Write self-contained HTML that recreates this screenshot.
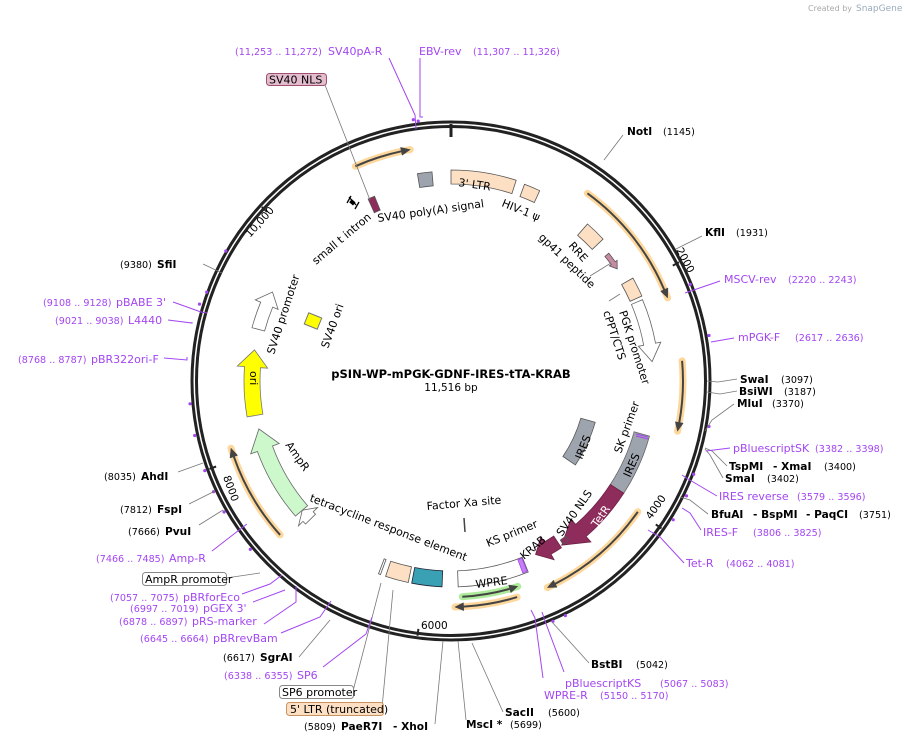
<!DOCTYPE html>
<html><head><meta charset="utf-8"><style>
html,body{margin:0;padding:0;background:#fff}
svg{display:block}
text{font-family:"DejaVu Sans","Liberation Sans",sans-serif;font-size:11px;fill:#000}
.p{fill:#a346f2}
.n{font-size:9.6px}
.b{font-weight:bold;font-size:10.6px}
</style></head><body>
<svg id="s" width="905" height="743" viewBox="0 0 905 743" xmlns="http://www.w3.org/2000/svg">
<text x="808" y="11" style="font-size:8px;fill:#aaa">Created by</text><text x="856" y="11" style="font-size:9px;fill:#9ab">SnapGene</text>
<g id="shapes"></g>
<g stroke="#777" stroke-width="0.8" fill="none">
<polyline points="325,85 370,200"/>
<polyline points="623,135 604,160"/>
<polyline points="702,236 676,249"/>
<polyline points="737,379 718,382 707,381"/>
<polyline points="737,391 720,394 707,392"/>
<polyline points="734,404 712,420 705,431"/>
<polyline points="727,466 712,451 705,448"/>
<polyline points="723,478 710,455 705,449"/>
<polyline points="708,514 690,500 680,497"/>
<polyline points="203,264 222,273"/>
<polyline points="178,472 203,463"/>
<polyline points="189,504 215,491"/>
<polyline points="199,525 223,510"/>
<polyline points="226,578 260,573"/>
<polyline points="299,657 330,620"/>
<polyline points="353,691 381,583"/>
<polyline points="382,708 393,590"/>
<polyline points="435,724 443,641"/>
<polyline points="466,720 458,641"/>
<polyline points="503,712 472,643"/>
<polyline points="589,663 552,622"/>
<polyline points="611,263 590,276"/>
<polyline points="620,294 609,301"/>
</g>
<g stroke="#a346f2" stroke-width="1" fill="none">
<polyline points="389,58 415,115 416,129"/>
<polyline points="420,58 420,117 423,117"/>
<polyline points="720,281 685,293"/>
<polyline points="734,338 711,342"/>
<polyline points="730,448 706,451"/>
<polyline points="717,496 688,479 682,475"/>
<polyline points="701,530 690,513 682,508"/>
<polyline points="684,563 660,537 648,530"/>
<polyline points="173,302 201,312 207,313"/>
<polyline points="168,320 192,323 192,322"/>
<polyline points="164,358 187,360 187,357"/>
<polyline points="212,551 243,527 247,524"/>
<polyline points="242,594 270,584 282,575"/>
<polyline points="253,602 285,590"/>
<polyline points="264,624 296,602 296,586"/>
<polyline points="281,633 320,617 331,601"/>
<polyline points="323,667 366,634 372,617"/>
<polyline points="543,678 535,618 531,610"/>
<polyline points="564,672 545,621 542,612"/>
</g>
<text x="451" y="378" text-anchor="middle" class="b" style="font-size:11.5px">pSIN-WP-mPGK-GDNF-IRES-tTA-KRAB</text>
<text x="451" y="391" text-anchor="middle" style="font-size:10.5px">11,516 bp</text>
<text x="235" y="55" class="p n">(11,253 .. 11,272)</text>
<text x="328" y="55" class="p">SV40pA-R</text>
<text x="419" y="55" class="p">EBV-rev</text>
<text x="473" y="55" class="p n">(11,307 .. 11,326)</text>
<rect x="266.5" y="73.5" width="60" height="12" rx="3" fill="#e3bccd" stroke="#a0506e"/>
<text x="269" y="83.5">SV40 NLS</text>
<text x="627" y="135" class="b">NotI</text><text x="663" y="135" class="n">(1145)</text>
<text x="705" y="236" class="b">KflI</text><text x="736" y="236" class="n">(1931)</text>
<text x="724" y="283" class="p">MSCV-rev</text><text x="788" y="283" class="p n">(2220 .. 2243)</text>
<text x="738" y="341" class="p">mPGK-F</text><text x="795" y="341" class="p n">(2617 .. 2636)</text>
<text x="740" y="383" class="b">SwaI</text><text x="781" y="383" class="n">(3097)</text>
<text x="739" y="395" class="b">BsiWI</text><text x="784" y="395" class="n">(3187)</text>
<text x="737" y="407" class="b">MluI</text><text x="772" y="407" class="n">(3370)</text>
<text x="733" y="452" class="p">pBluescriptSK</text><text x="815" y="452" class="p n">(3382 .. 3398)</text>
<text x="729" y="470" class="b">TspMI</text><text x="773" y="470" class="b">- XmaI</text><text x="824" y="470" class="n">(3400)</text>
<text x="725" y="482" class="b">SmaI</text><text x="767" y="482" class="n">(3402)</text>
<text x="719" y="500" class="p">IRES reverse</text><text x="797" y="500" class="p n">(3579 .. 3596)</text>
<text x="711" y="518" class="b">BfuAI</text><text x="753" y="518" class="b">- BspMI</text><text x="806" y="518" class="b">- PaqCI</text><text x="859" y="518" class="n">(3751)</text>
<text x="703" y="536" class="p">IRES-F</text><text x="753" y="536" class="p n">(3806 .. 3825)</text>
<text x="686" y="567" class="p">Tet-R</text><text x="726" y="567" class="p n">(4062 .. 4081)</text>
<text x="120" y="268" class="n">(9380)</text><text x="157" y="268" class="b">SfiI</text>
<text x="43" y="306" class="p n">(9108 .. 9128)</text><text x="116" y="306" class="p">pBABE 3'</text>
<text x="55" y="324" class="p n">(9021 .. 9038)</text><text x="128" y="324" class="p">L4440</text>
<text x="18" y="363" class="p n">(8768 .. 8787)</text><text x="91" y="363" class="p">pBR322ori-F</text>
<text x="104" y="480" class="n">(8035)</text><text x="141" y="480" class="b">AhdI</text>
<text x="120" y="513" class="n">(7812)</text><text x="157" y="513" class="b">FspI</text>
<text x="128" y="535" class="n">(7666)</text><text x="165" y="535" class="b">PvuI</text>
<text x="96" y="562" class="p n">(7466 .. 7485)</text><text x="169" y="562" class="p">Amp-R</text>
<rect x="142.5" y="572.5" width="84" height="13" rx="3" fill="#fff" stroke="#888"/>
<text x="145" y="583">AmpR promoter</text>
<text x="110" y="601" class="p n">(7057 .. 7075)</text><text x="183" y="601" class="p">pBRforEco</text>
<text x="130" y="612" class="p n">(6997 .. 7019)</text><text x="203" y="612" class="p">pGEX 3'</text>
<text x="119" y="625" class="p n">(6878 .. 6897)</text><text x="192" y="625" class="p">pRS-marker</text>
<text x="140" y="642" class="p n">(6645 .. 6664)</text><text x="213" y="642" class="p">pBRrevBam</text>
<text x="223" y="661" class="n">(6617)</text><text x="260" y="661" class="b">SgrAI</text>
<text x="224" y="679" class="p n">(6338 .. 6355)</text><text x="297" y="679" class="p">SP6</text>
<rect x="279.5" y="685.5" width="74" height="13" rx="3" fill="#fff" stroke="#888"/>
<text x="282" y="696">SP6 promoter</text>
<rect x="286.5" y="702.5" width="97" height="13" rx="3" fill="#fde0c3" stroke="#c9925e"/>
<text x="290" y="713">5' LTR (truncated)</text>
<text x="304" y="730" class="n">(5809)</text><text x="341" y="730" class="b">PaeR7I</text><text x="393" y="730" class="b">- XhoI</text>
<text x="466" y="728" class="b">MscI *</text><text x="510" y="728" class="n">(5699)</text>
<text x="505" y="716" class="b">SacII</text><text x="548" y="716" class="n">(5600)</text>
<text x="544" y="699" class="p">WPRE-R</text><text x="600" y="699" class="p n">(5150 .. 5170)</text>
<text x="565" y="687" class="p">pBluescriptKS</text><text x="660" y="687" class="p n">(5067 .. 5083)</text>
<text x="591" y="668" class="b">BstBI</text><text x="636" y="668" class="n">(5042)</text>
<text transform="translate(676,250) rotate(62)" style="font-size:10.5px">2000</text>
<text transform="translate(651,520) rotate(-55)" style="font-size:10.5px">4000</text>
<text x="421" y="629" style="font-size:10.5px">6000</text>
<text transform="translate(223,477) rotate(70)" style="font-size:10.5px">8000</text>
<text transform="translate(250,238) rotate(-48)" style="font-size:10.5px">10,000</text>
<text transform="translate(458,186) rotate(8)">3' LTR</text>
<text transform="translate(378,222) rotate(-8)">SV40 poly(A) signal</text>
<text transform="translate(501,206) rotate(22)">HIV-1 ψ</text>
<text transform="translate(568,246) rotate(48)">RRE</text>
<text transform="translate(538,238) rotate(44)">gp41 peptide</text>
<text transform="translate(316,265) rotate(-40)">small t intron</text>
<text transform="translate(619,312) rotate(72)">PGK promoter</text>
<text transform="translate(603,312) rotate(72)">cPPT/CTS</text>
<text transform="translate(621,454) rotate(-70)">SK primer</text>
<text transform="translate(582,460) rotate(-68)">IRES</text>
<text transform="translate(630,478) rotate(-66)">IRES</text>
<text transform="translate(597,528) rotate(-55)" style="fill:#fff">TetR</text>
<text transform="translate(562,537) rotate(-55)">SV40 NLS</text>
<text transform="translate(524,560) rotate(-40)">KRAB</text>
<text transform="translate(488,547) rotate(-22)">KS primer</text>
<text transform="translate(427,510) rotate(-5)">Factor Xa site</text>
<text transform="translate(476,588) rotate(-7)">WPRE</text>
<text transform="translate(309,501) rotate(21)">tetracycline response element</text>
<text transform="translate(285,445) rotate(55)">AmpR</text>
<text transform="translate(250,371) rotate(90)">ori</text>
<text transform="translate(274,355) rotate(-72)">SV40 promoter</text>
<text transform="translate(328,349) rotate(-70)">SV40 ori</text>
</svg>
<script>
(function(){
var cx=451,cy=381,g=document.getElementById('shapes'),NS='http://www.w3.org/2000/svg';
function P(r,a){a=a*Math.PI/180;return [(cx+r*Math.sin(a)).toFixed(1),(cy-r*Math.cos(a)).toFixed(1)].join(',');}
function el(t,at){var e=document.createElementNS(NS,t);for(var k in at)e.setAttribute(k,at[k]);g.appendChild(e);return e;}
function arc(r,a1,a2){var sw=a2>a1?1:0,lg=Math.abs(a2-a1)>180?1:0;return 'A'+r+','+r+' 0 '+lg+','+sw+' '+P(r,a2);}
function band(r1,r2,a1,a2,fill,stroke){el('path',{d:'M'+P(r2,a1)+arc(r2,a1,a2)+'L'+P(r1,a2)+arc(r1,a2,a1)+'Z',fill:fill,stroke:stroke||'#555','stroke-width':0.8});}
function arrowBand(r1,r2,a1,a2,h,fill,stroke){var d=a2>a1?1:-1,ab=a2-d*h,w=(r2-r1)*0.45,rm=(r1+r2)/2;
 el('path',{d:'M'+P(r2,a1)+arc(r2,a1,ab)+'L'+P(r2+w,ab)+'L'+P(rm,a2)+'L'+P(r1-w,ab)+'L'+P(r1,ab)+arc(r1,ab,a1)+'Z',fill:fill,stroke:stroke||'#555','stroke-width':0.8});}
function thin(r,a1,a2,glow){var d=a2>a1?1:-1,ab=a2-d*2.2;
 el('path',{d:'M'+P(r,a1)+arc(r,a1,a2),fill:'none',stroke:glow,'stroke-width':7,'stroke-linecap':'round','stroke-opacity':0.85});
 el('path',{d:'M'+P(r,a1)+arc(r,a1,ab),fill:'none',stroke:'#444','stroke-width':2});
 el('path',{d:'M'+P(r+4,ab)+'L'+P(r,a2)+'L'+P(r-4,ab)+'Z',fill:'#444',stroke:'#444','stroke-width':0.5});}
el('circle',{cx:cx,cy:cy,r:259,fill:'none',stroke:'#222','stroke-width':3});
el('circle',{cx:cx,cy:cy,r:254.5,fill:'none',stroke:'#222','stroke-width':3});
[0,62.5,125,187.5,250,312.6].forEach(function(a){el('path',{d:'M'+P(257,a)+'L'+P(a==0?244:250,a),stroke:'#222','stroke-width':a==0?3:2});});
[[-8.2,264],[-7.2,262],[68,258],[80,262],[100,262],[111,260],[116,262],[122,262],[-73,263],[-70,260],[-60,260],[-130,262],[-120,262],[-115,262],[-110,262],[-102,262],[-95,262],[157,261],[154,261]].forEach(function(p){var q=P(p[1],p[0]).split(',');el('circle',{cx:q[0],cy:q[1],r:1.6,fill:'#a346f2'});});
thin(235,-24,-10,'#fdd08a');
thin(232,36,69,'#fdd08a');
thin(232,85,102.5,'#fdd08a');
thin(228,125,155,'#fdd08a');
thin(226,163,179,'#fdd08a');
thin(216,177,162,'#9fe88a');
thin(230,228,253,'#fdd08a');
band(197,211,0,18,'#fde0c3');
band(197,210,20.5,25,'#fde0c3');
band(196,210,-9.2,-5.2,'#9ea4ad');
band(193,208,41,47,'#fde0c3');
band(196,209,60.5,66,'#fde0c3');
arrowBand(196,208,67,84.5,5,'#fff','#666');
arrowBand(198,203,51,56,2,'#c78aa3','#555');
band(135,150,106,124,'#9ea4ad');
band(190,206,105.5,123,'#9ea4ad','#666');
arrowBand(190,206,123,146,7,'#8e2d5c','#6b2045');
band(193,198,143.5,145.5,'#8e2d5c');
arrowBand(186,200,146.5,154,4,'#8e2d5c','#6b2045');
band(190,206,158,178,'#fff','#555');
band(191,205,158.2,159.5,'#c77ff5','#a346f2');
band(190,206,182.5,191,'#3aa1b5','#223');
band(190,206,192,198.5,'#fde0c3');
band(190,206,200,200.6,'#fff','#555');
arrowBand(190,206,229,256,6,'#ccf8cc','#666');
arrowBand(190,204,225.5,229,2.5,'#fff','#666');
arrowBand(191,207,260,279,5,'#ffff00','#777');
arrowBand(193,206,285,296.5,4,'#fff','#666');
band(185,200,-24.5,-22.5,'#8e2d5c');
el('rect',{x:306,y:315,width:14,height:12,fill:'#ffff00',stroke:'#777',transform:'rotate(22 313 321)'});
el('path',{d:'M349,197 L356,205 M347,203 L351,196 M355,209 L359,202',stroke:'#000','stroke-width':1.3,fill:'none'});
el('rect',{x:350,y:200,width:5,height:4,fill:'#000',transform:'rotate(40 352 202)'});
el('path',{d:'M464,518 L465,532',stroke:'#444','stroke-width':1.5});
el('path',{d:'M636,436 L648,439 M636,434 L648,437',stroke:'#a346f2','stroke-width':1});
})();
</script>
</body></html>
